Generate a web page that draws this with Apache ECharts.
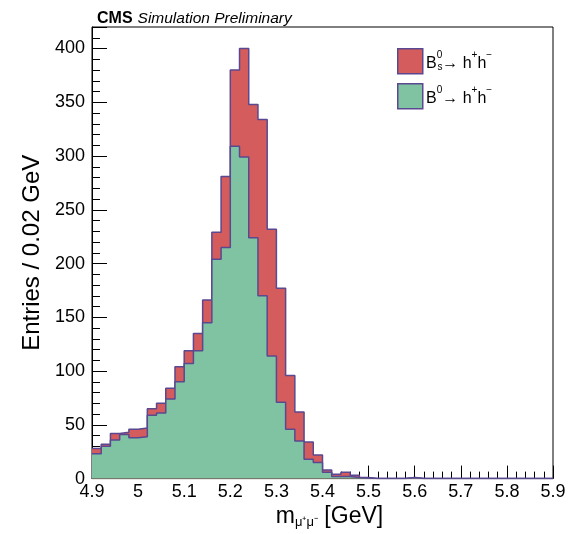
<!DOCTYPE html>
<html><head><meta charset="utf-8">
<script src="https://cdn.jsdelivr.net/npm/echarts@6/dist/echarts.min.js"></script>
<style>html,body{margin:0;padding:0;background:#fff}#c{width:584px;height:534px}</style>
</head><body><div id="c"></div>
<script>
// Bin lower edges (GeV), bin width 0.02 GeV
const binLow = [4.90,4.92,4.94,4.96,4.98,5.00,5.02,5.04,5.06,5.08,
                5.10,5.12,5.14,5.16,5.18,5.20,5.22,5.24,5.26,5.28,
                5.30,5.32,5.34,5.36,5.38,5.40,5.42,5.44,5.46,5.48,
                5.50,5.52,5.54,5.56,5.58,5.60,5.62,5.64,5.66,5.68,
                5.70,5.72,5.74,5.76,5.78,5.80,5.82,5.84,5.86,5.88];
const xEnd = 5.90;
// B0 -> h+h- entries per bin
const b0 = [23,30,36,41,38,39,59,61,74,90,
            107,119,145,204,215,309,299,224,170,114,
            71,46,35,18,15,6,2,2,1,0.5,
            0,0,0,0,1,0,0,0,0,0,
            0,0,0,0,0,0,0,0,0,0];
// Bs -> h+h- entries per bin (stacked on top of B0)
const bs = [5,2,6,2,8,8,6,9,10,14,
            12,16,21,25,66,71,101,124,164,118,
            106,50,27,16,7,2,2,4,2,0.5,
            0,0,0,0,0,0,0,0,0,0,
            0,0,0,0,0,0,0,0,0,0];
const xTicks = [4.9,5.0,5.1,5.2,5.3,5.4,5.5,5.6,5.7,5.8,5.9];
const yTicks = [0,50,100,150,200,250,300,350,400];

const total = b0.map((v,i)=>v+bs[i]);
function stepData(vals){
  const d = binLow.map((x,i)=>[x, vals[i]]);
  d.push([xEnd, vals[vals.length-1]]);
  return d;
}
const RED='#d55c5c', GREEN='#7fc3a3', EDGE='#5a4890';
const FONT='Liberation Sans, Arial, Helvetica, sans-serif';

const chart = echarts.init(document.getElementById('c'), null, {renderer:'canvas'});
chart.setOption({
  animation:false,
  backgroundColor:'#fff',
  textStyle:{fontFamily:FONT},
  title:{
    left:92, top:5,
    text:'{a|CMS} {b|Simulation Preliminary}',
    textStyle:{rich:{
      a:{fontSize:16,fontWeight:'bold',color:'#000',fontFamily:FONT},
      b:{fontSize:15.5,fontStyle:'italic',fontWeight:'normal',color:'#000',fontFamily:FONT}
    }}
  },
  grid:{left:92,right:31,top:27,bottom:48,show:true,borderColor:'#000',borderWidth:1,backgroundColor:'transparent'},
  xAxis:{
    type:'value', min:4.9, max:5.9, interval:0.1,
    name:'{m|m}{s|μ⁺μ⁻}{g| [GeV]}', nameLocation:'middle', nameGap:22,
    nameTextStyle:{rich:{
      m:{fontSize:23,color:'#000',fontFamily:FONT,lineHeight:24,padding:[0,0,0,14]},
      s:{fontSize:13,color:'#000',fontFamily:FONT,lineHeight:24,verticalAlign:'bottom'},
      g:{fontSize:23,color:'#000',fontFamily:FONT,lineHeight:24}
    }},
    axisLine:{show:true,lineStyle:{color:'#000',width:1}},
    axisTick:{show:true,inside:true,length:13,lineStyle:{color:'#000'}},
    minorTick:{show:true,splitNumber:5,length:7,lineStyle:{color:'#000'}},
    axisLabel:{fontSize:18,color:'#000',margin:4,fontFamily:FONT,
      formatter:v=>{const r=Math.round(v*10)/10; return xTicks.some(t=>Math.abs(t-r)<1e-6)? String(r):'';}},
    splitLine:{show:false}
  },
  yAxis:[{
    type:'value', min:0, max:420, interval:50, position:'left',
    name:'Entries / 0.02 GeV', nameLocation:'middle', nameGap:47, nameRotate:90,
    nameTextStyle:{fontSize:24,color:'#000',fontFamily:FONT},
    axisLine:{show:true,lineStyle:{color:'#000',width:1}},
    axisTick:{show:true,inside:true,length:15,lineStyle:{color:'#000'}},
    axisLabel:{fontSize:18,color:'#000',margin:7,fontFamily:FONT,
      formatter:v=> yTicks.indexOf(Math.round(v))>=0 ? String(Math.round(v)) : ''},
    splitLine:{show:false}
  },{
    type:'value', min:0, max:420, interval:10, position:'left',
    axisLine:{show:false},
    axisTick:{show:true,inside:true,length:8,lineStyle:{color:'#000'}},
    axisLabel:{show:false},
    splitLine:{show:false}
  }],
  series:[{
    name:'Bs', type:'line', step:'end', data:stepData(total), yAxisIndex:0,
    symbol:'none', lineStyle:{color:EDGE,width:1.5}, areaStyle:{color:RED,opacity:1}, z:2
  },{
    name:'B0', type:'line', step:'end', data:stepData(b0), yAxisIndex:0,
    symbol:'none', lineStyle:{color:EDGE,width:1.5}, areaStyle:{color:GREEN,opacity:1}, z:3
  }],
  graphic:[
    {type:'rect', left:397, top:48, shape:{width:25,height:25}, style:{fill:RED,stroke:EDGE,lineWidth:1.5}},
    {type:'text', left:426, top:50, style:{text:'{b|B}{p|0}{b|→ h}{p|+}{b|h}{p|−}', rich:{
      b:{fontSize:16,fontFamily:FONT,fill:'#000',lineHeight:22,verticalAlign:'bottom'},
      p:{fontSize:10,fontFamily:FONT,fill:'#000',lineHeight:22,verticalAlign:'top'}}}},
    {type:'text', left:437.5, top:62, style:{text:'s',fontSize:10,fontFamily:FONT,fill:'#000'}},
    {type:'rect', left:397, top:83, shape:{width:25,height:25}, style:{fill:GREEN,stroke:EDGE,lineWidth:1.5}},
    {type:'text', left:426, top:85, style:{text:'{b|B}{p|0}{b|→ h}{p|+}{b|h}{p|−}', rich:{
      b:{fontSize:16,fontFamily:FONT,fill:'#000',lineHeight:22,verticalAlign:'bottom'},
      p:{fontSize:10,fontFamily:FONT,fill:'#000',lineHeight:22,verticalAlign:'top'}}}}
  ]
});
</script></body></html>
